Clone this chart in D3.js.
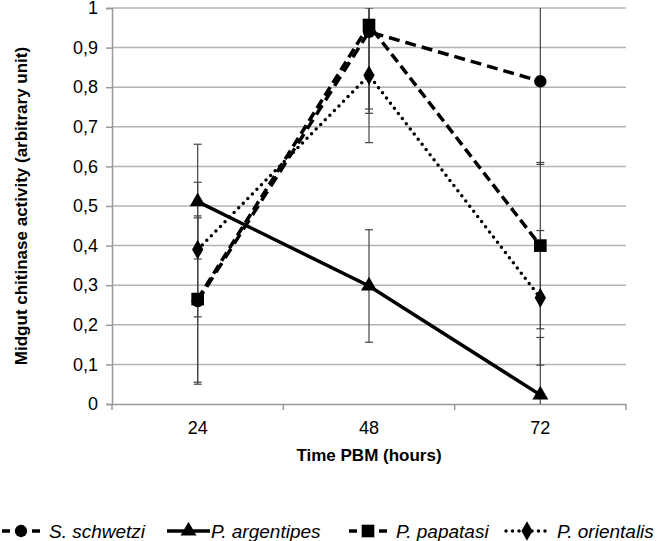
<!DOCTYPE html>
<html>
<head>
<meta charset="utf-8">
<script src="https://cdn.jsdelivr.net/npm/d3@7"></script>
<style>
  body { margin: 0; background: #fff; }
  text { font-family: "Liberation Sans", Arial, sans-serif; }
</style>
</head>
<body>
<div id="chart"></div>
<script>
var times = ["24", "48", "72"];
var yTicks = [0, 0.1, 0.2, 0.3, 0.4, 0.5, 0.6, 0.7, 0.8, 0.9, 1];

var names = ["S. schwetzi", "P. argentipes", "P. papatasi", "P. orientalis"];
var schwetzi = [0.26, 0.94, 0.815];
var schwetziErr = [0.21, 0.195, 0.21];
var argentipes = [0.511, 0.298, 0.023];
var argentipesErr = [0.145, 0.142, 0.145];
var papatasi = [0.265, 0.957, 0.40];
var papatasiErr = [0.21, 0.223, 0.21];
var orientalis = [0.39, 0.83, 0.268];
var orientalisErr = [0.17, 0.17, 0.17];

var series = [
  {name: names[0], values: schwetzi, err: schwetziErr, dash: "11,6", legDash: "8,22", cap: "butt", marker: d3.symbolCircle, size: 120},
  {name: names[1], values: argentipes, err: argentipesErr, dash: null, legDash: null, cap: "butt", marker: d3.symbolTriangle, size: 110},
  {name: names[2], values: papatasi, err: papatasiErr, dash: "10,5", legDash: "8,22", cap: "butt", marker: d3.symbolSquare, size: 160},
  {name: names[3], values: orientalis, err: orientalisErr, dash: "0,6.5", legDash: "0,6.5", cap: "round", marker: d3.symbolDiamond, size: 110}
];

var width = 660, height = 541;
var plotLeft = 112, plotRight = 626, plotTop = 8, plotBottom = 404;

var svg = d3.select("#chart").append("svg").attr("width", width).attr("height", height);

var x = d3.scaleBand().domain(times).range([plotLeft, plotRight]);
var y = d3.scaleLinear().domain([0, 1]).range([plotBottom, plotTop]);
var cx = function(t) { return x(t) + x.bandwidth() / 2; };

// gridlines
svg.append("g").selectAll("line").data(yTicks.slice(1)).enter().append("line")
  .attr("x1", plotLeft).attr("x2", plotRight)
  .attr("y1", function(d) { return y(d); }).attr("y2", function(d) { return y(d); })
  .attr("stroke", "#b3b3b3").attr("stroke-width", 1.5);

var fmt = function(d) { return (d === 0 || d === 1) ? String(d) : d.toFixed(1).replace(".", ","); };

var yAxis = svg.append("g").attr("transform", "translate(" + plotLeft + ",0)")
  .call(d3.axisLeft(y).tickValues(yTicks).tickFormat(fmt).tickSize(6).tickPadding(8));
yAxis.select(".domain").attr("stroke", "#999").attr("stroke-width", 1.5);
yAxis.selectAll(".tick line").attr("stroke", "#999").attr("stroke-width", 1.5);
yAxis.selectAll("text").attr("font-size", 18).attr("fill", "#000");

var xAxis = svg.append("g").attr("transform", "translate(0," + plotBottom + ")")
  .call(d3.axisBottom(x).tickSize(0).tickPadding(17));
xAxis.select(".domain").attr("stroke", "#999").attr("stroke-width", 1.5);
xAxis.selectAll("text").attr("font-size", 18).attr("fill", "#000");
// category boundary ticks
xAxis.append("g").selectAll("line").data(times.concat(["end"])).enter().append("line")
  .attr("x1", function(d, i) { return plotLeft + i * x.bandwidth(); })
  .attr("x2", function(d, i) { return plotLeft + i * x.bandwidth(); })
  .attr("y1", 0).attr("y2", 6)
  .attr("stroke", "#999").attr("stroke-width", 1.5);

svg.append("text").attr("x", (plotLeft + plotRight) / 2).attr("y", 461)
  .attr("text-anchor", "middle").attr("font-size", 17).attr("font-weight", "bold")
  .text("Time PBM (hours)");

svg.append("text").attr("transform", "translate(27," + ((plotTop + plotBottom) / 2) + ") rotate(-90)")
  .attr("text-anchor", "middle").attr("font-size", 17).attr("font-weight", "bold")
  .text("Midgut chitinase activity (arbitrary unit)");

svg.append("clipPath").attr("id", "plot").append("rect")
  .attr("x", plotLeft - 10).attr("y", plotTop).attr("width", plotRight - plotLeft + 20).attr("height", plotBottom - plotTop);

// error bars
var eb = svg.append("g").attr("clip-path", "url(#plot)");
series.forEach(function(s) {
  times.forEach(function(t, i) {
    var hi = y(s.values[i] + s.err[i]), lo = y(s.values[i] - s.err[i]);
    eb.append("line").attr("x1", cx(t)).attr("x2", cx(t)).attr("y1", hi).attr("y2", lo)
      .attr("stroke", "#444").attr("stroke-width", 1.2);
    [hi, lo].forEach(function(v) {
      eb.append("line").attr("x1", cx(t) - 4).attr("x2", cx(t) + 4).attr("y1", v).attr("y2", v)
        .attr("stroke", "#444").attr("stroke-width", 1.2);
    });
  });
});

var line = d3.line().x(function(d, i) { return cx(times[i]); }).y(function(d) { return y(d); });

series.forEach(function(s) {
  svg.append("path").datum(s.values).attr("d", line)
    .attr("fill", "none").attr("stroke", "#000").attr("stroke-width", 3.5)
    .attr("stroke-dasharray", s.dash).attr("stroke-linecap", s.cap);
  svg.append("g").selectAll("path").data(s.values).enter().append("path")
    .attr("d", d3.symbol().type(s.marker).size(s.size))
    .attr("transform", function(d, i) { return "translate(" + cx(times[i]) + "," + y(d) + ")"; })
    .attr("fill", "#000");
});

// legend
var legX = [0, 165, 347, 504];
var legLen = [40, 45, 40, 44];
var leg = svg.append("g").attr("transform", "translate(0,531)");
series.forEach(function(s, i) {
  var g = leg.append("g").attr("transform", "translate(" + legX[i] + ",0)");
  g.append("line").attr("x1", 2).attr("x2", legLen[i]).attr("y1", 0).attr("y2", 0)
    .attr("stroke", "#000").attr("stroke-width", 3.5)
    .attr("stroke-dasharray", s.legDash).attr("stroke-linecap", s.cap);
  g.append("path").attr("d", d3.symbol().type(s.marker).size(s.size))
    .attr("transform", "translate(" + (legLen[i] / 2 + 1) + ",0)").attr("fill", "#000");
  g.append("text").attr("x", legLen[i] + (i === 1 ? 1 : 9)).attr("y", 7).attr("font-size", 19).attr("font-style", "italic")
    .text(s.name);
});
</script>
</body>
</html>
